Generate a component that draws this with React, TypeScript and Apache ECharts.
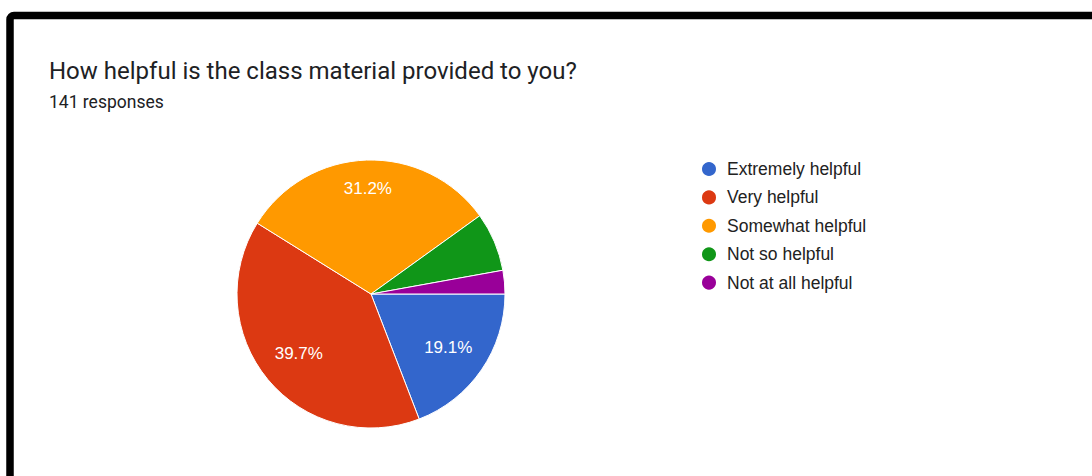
import React, { useEffect, useRef } from "react";
import * as echarts from "echarts";

const titleText = "How helpful is the class material provided to you?";
const subtitleText = "141 responses";
const categories = [
  "Extremely helpful",
  "Very helpful",
  "Somewhat helpful",
  "Not so helpful",
  "Not at all helpful",
];
const counts = [27, 56, 44, 10, 4];
const colors = ["#3366cc", "#dc3912", "#ff9900", "#109618", "#990099"];

export default function App() {
  const ref = useRef<HTMLDivElement>(null);

  useEffect(() => {
    if (!ref.current) return;
    const chart = echarts.init(ref.current, null, { renderer: "svg" });
    const total = counts.reduce((a, b) => a + b, 0);
    const data = categories.map((name, i) => ({
      name,
      value: counts[i],
      itemStyle: { color: colors[i] },
    }));

    chart.setOption({
      animation: false,
      backgroundColor: "#ffffff",
      title: [
        {
          text: titleText,
          left: 49,
          top: 59,
          padding: 0,
          textStyle: {
            fontFamily: "Roboto",
            fontSize: 24,
            fontWeight: "normal",
            color: "#202124",
          },
        },
        {
          text: subtitleText,
          left: 49,
          top: 93,
          padding: 0,
          textStyle: {
            fontFamily: "Roboto",
            fontSize: 17.5,
            fontWeight: "normal",
            color: "#202124",
          },
        },
      ],
      legend: {
        orient: "vertical",
        left: 700,
        top: 160,
        padding: 0,
        icon: "circle",
        itemWidth: 26,
        itemHeight: 16,
        itemGap: 10.4,
        selectedMode: false,
        data: categories,
        textStyle: {
          fontFamily: "Liberation Sans, Arial, sans-serif",
          fontSize: 17.5,
          lineHeight: 18,
          color: "#222222",
        },
      },
      graphic: [
        {
          type: "rect",
          shape: { x: 10, y: 15.5, width: 2000, height: 2000, r: 4 },
          style: { fill: "none", stroke: "#000000", lineWidth: 7.5 },
          silent: true,
        },
      ],
      series: [
        {
          type: "pie",
          center: [371, 294],
          radius: [0, 134],
          startAngle: 0,
          clockwise: true,
          data,
          label: { show: false },
          labelLine: { show: false },
          itemStyle: { borderColor: "#ffffff", borderWidth: 1 },
          silent: true,
        },
        {
          type: "pie",
          center: [371, 294],
          radius: [47.4, 134],
          startAngle: 0,
          clockwise: true,
          data: categories.map((name, i) => ({ name, value: counts[i] })),
          itemStyle: { color: "rgba(0,0,0,0)", borderWidth: 0 },
          silent: true,
          z: 3,
          label: {
            show: true,
            position: "inside",
            color: "#ffffff",
            fontFamily: "Liberation Sans, Arial, sans-serif",
            fontSize: 17,
            formatter: (p: any) => {
              const pct = (p.value / total) * 100;
              return pct >= 10 ? pct.toFixed(1) + "%" : "";
            },
          },
          labelLayout: (p: any) => (p.dataIndex === 2 ? { dy: -12 } : {}),
          labelLine: { show: false },
        },
      ],
    });

    return () => chart.dispose();
  }, []);

  return (
    <div
      ref={ref}
      style={{ position: "absolute", left: 0, top: 0, width: 1092, height: 476 }}
    />
  );
}
